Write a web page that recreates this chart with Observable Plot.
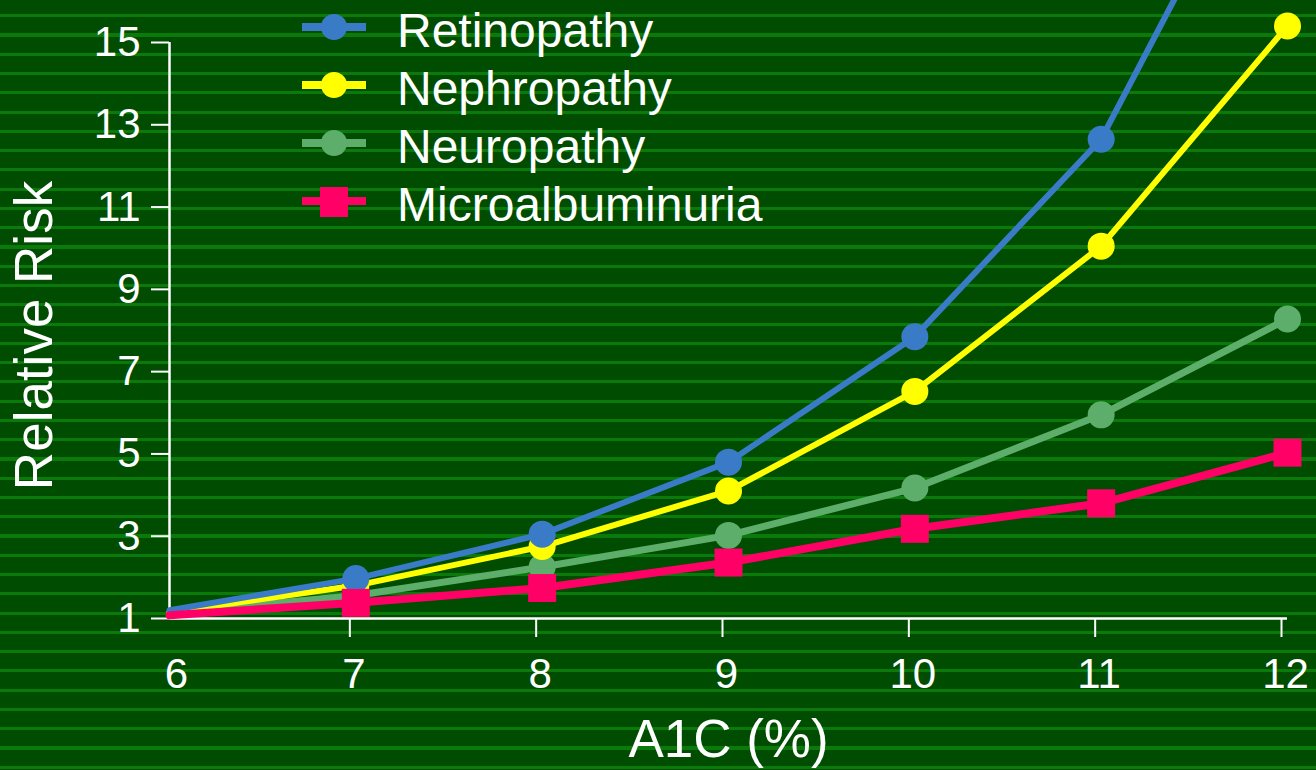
<!DOCTYPE html>
<html>
<head>
<meta charset="utf-8">
<script src="https://cdn.jsdelivr.net/npm/d3@7"></script>
<script src="https://cdn.jsdelivr.net/npm/@observablehq/plot@0.6"></script>
<style>
  html, body { margin: 0; padding: 0; }
  body {
    width: 1316px; height: 770px; overflow: hidden;
    background-color: #004c00;
    background-image: repeating-linear-gradient(to bottom,
      #004c00 0px, #004c00 14.2px, #0a7a0a 14.2px, #0a7a0a 17.3px, #004c00 17.3px, #004c00 19.27px);
    font-family: "Liberation Sans", Arial, sans-serif;
  }
  #wrap { position: relative; width: 1316px; height: 770px; }
  #legend { position: absolute; left: 0; top: 0; }
  .row { position: absolute; left: 302px; height: 58px; display: flex; align-items: center; color: white; font-size: 48px; white-space: nowrap; }
  .row svg { display: block; }
  .row span { margin-left: 31px; }
</style>
</head>
<body>
<div id="wrap"><div id="legend"></div></div>
<script>
// ---- data ----
const a1c = [6, 7, 8, 9, 10, 11, 12];
const retinopathy = [1.2, 1.97, 3.05, 4.8, 7.85, 12.65, 21.3];
const nephropathy = [1.15, 1.8, 2.75, 4.1, 6.52, 10.05, 15.4];
const neuropathy = [1.12, 1.56, 2.25, 3.02, 4.17, 5.95, 8.28];
const microalbuminuria = [1.08, 1.38, 1.74, 2.36, 3.18, 3.8, 5.03];
const seriesNames = ["Retinopathy", "Nephropathy", "Neuropathy", "Microalbuminuria"];
const xTicks = [6, 7, 8, 9, 10, 11, 12];
const yTicks = [1, 3, 5, 7, 9, 11, 13, 15];
const xLabel = "A1C (%)";
const yLabel = "Relative Risk";

// ---- styles ----
const colors = {Retinopathy: "#3a7bc8", Nephropathy: "#ffff00", Neuropathy: "#5dae6a", Microalbuminuria: "#ff0066"};
const widths = {Retinopathy: 6, Nephropathy: 6, Neuropathy: 7, Microalbuminuria: 8};
const symbols = {Retinopathy: "circle", Nephropathy: "circle", Neuropathy: "circle", Microalbuminuria: "square"};
const radius = {Retinopathy: 13.5, Nephropathy: 13.5, Neuropathy: 13.5, Microalbuminuria: 15.8};

const valuesBySeries = {Retinopathy: retinopathy, Nephropathy: nephropathy, Neuropathy: neuropathy, Microalbuminuria: microalbuminuria};
const table = seriesNames.flatMap(s => a1c.map((x, i) => ({series: s, x, y: valuesBySeries[s][i]})));

const drawOrder = ["Neuropathy", "Nephropathy", "Retinopathy", "Microalbuminuria"];
const seriesMarks = drawOrder.flatMap(s => {
  const d = table.filter(r => r.series === s);
  return [
    Plot.line(d, {x: "x", y: "y", stroke: colors[s], strokeWidth: widths[s], strokeLinejoin: "round"}),
    Plot.dot(d.filter(r => r.x > a1c[0]), {x: "x", y: "y", fill: colors[s], r: radius[s], symbol: symbols[s], stroke: "none"})
  ];
});

const fmt = d => String(d);

const chart = Plot.plot({
  width: 1316,
  height: 770,
  marginLeft: 169,
  marginRight: 29,
  marginTop: 42,
  marginBottom: 152,
  x: {domain: [6, 12]},
  y: {domain: [1, 15]},
  style: {background: "transparent", color: "white", fontFamily: "'Liberation Sans', Arial, sans-serif", overflow: "hidden"},
  marks: [
    Plot.axisY({ticks: yTicks, tickFormat: fmt, tickSize: 18, tickPadding: 11, fontSize: 42, strokeWidth: 2, label: null}),
    // tick marks (slightly left of the data positions, as in the original slide)
    Plot.axisX({ticks: xTicks.slice(1), tickFormat: () => "", tickSize: 19, strokeWidth: 2, dx: -6, label: null}),
    // tick labels
    Plot.axisX({ticks: xTicks.slice(1), tickFormat: fmt, tickSize: 0, tickPadding: 40, fontSize: 42, dx: -2, label: null}),
    Plot.axisX({ticks: xTicks.slice(0, 1), tickFormat: fmt, tickSize: 0, tickPadding: 40, fontSize: 42, dx: 7, label: null}),
    Plot.ruleX([6], {y1: 1, y2: 15, stroke: "white", strokeWidth: 2.5}),
    Plot.ruleY([1], {x1: 6, x2: 12, stroke: "white", strokeWidth: 2.5}),
    ...seriesMarks,
    Plot.text([xLabel], {frameAnchor: "bottom", dy: 138, fontSize: 53, fill: "white"}),
    Plot.text([yLabel], {frameAnchor: "left", textAnchor: "middle", dx: -134, dy: 5, rotate: -90, fontSize: 53, fill: "white"})
  ]
});
document.getElementById("wrap").prepend(chart);

// ---- legend ----
const legend = document.getElementById("legend");
seriesNames.forEach((s, k) => {
  const row = document.createElement("div");
  row.className = "row";
  row.style.top = (1 + 58 * k) + "px";
  const marker = symbols[s] === "square"
    ? `<rect x="18" y="12" width="28" height="30" fill="${colors[s]}"/>`
    : `<circle cx="32" cy="26" r="13" fill="${colors[s]}"/>`;
  row.innerHTML = `<svg width="64" height="58"><line x1="0" x2="64" y1="26" y2="26" stroke="${colors[s]}" stroke-width="8"/>${marker}</svg><span>${s}</span>`;
  legend.appendChild(row);
});
</script>
</body>
</html>
